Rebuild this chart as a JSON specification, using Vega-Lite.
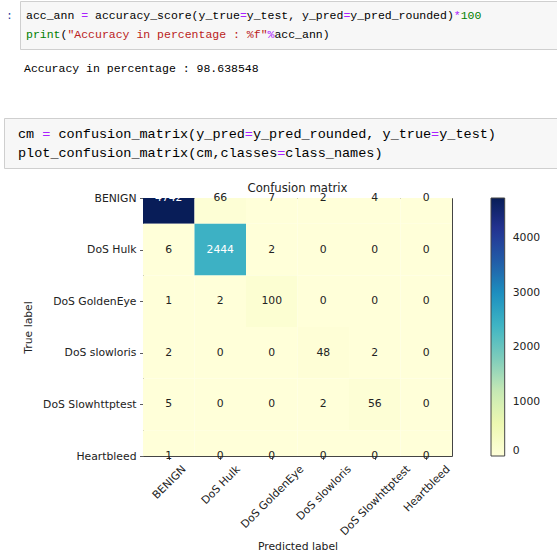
{
  "$schema": "https://vega.github.io/schema/vega-lite/v6.json",
  "padding": 0,
  "background": "white",
  "spacing": 0,
  "config": {
    "view": {"stroke": null},
    "font": "DejaVu Sans"
  },
  "vconcat": [
    {
      "spacing": 0,
      "hconcat": [
        {
          "width": 19,
          "height": 48,
          "data": {"values": [{"line": 1, "text": ":"}]},
          "mark": {"type": "text", "font": "Liberation Mono", "fontSize": 11.5, "color": "#303F9F", "baseline": "middle", "align": "center"},
          "encoding": {
            "y": {"field": "line", "type": "quantitative", "scale": {"domain": [0.211, 2.737], "reverse": true, "nice": false, "zero": false}, "axis": null},
            "text": {"field": "text"}
          }
        },
        {
          "width": 537,
          "height": 48,
          "view": {"fill": "#f7f7f7", "stroke": "#cfcfcf"},
          "data": {"values": [
            {"line": 1, "col": 0, "text": "acc_ann", "tok": "plain"},
            {"line": 1, "col": 8, "text": "=", "tok": "op"},
            {"line": 1, "col": 10, "text": "accuracy_score(y_true", "tok": "plain"},
            {"line": 1, "col": 31, "text": "=", "tok": "op"},
            {"line": 1, "col": 32, "text": "y_test, y_pred", "tok": "plain"},
            {"line": 1, "col": 46, "text": "=", "tok": "op"},
            {"line": 1, "col": 47, "text": "y_pred_rounded)", "tok": "plain"},
            {"line": 1, "col": 62, "text": "*", "tok": "op"},
            {"line": 1, "col": 63, "text": "100", "tok": "num"},
            {"line": 2, "col": 0, "text": "print", "tok": "builtin"},
            {"line": 2, "col": 5, "text": "(", "tok": "plain"},
            {"line": 2, "col": 6, "text": "\"Accuracy in percentage : %f\"", "tok": "string"},
            {"line": 2, "col": 35, "text": "%", "tok": "op"},
            {"line": 2, "col": 36, "text": "acc_ann)", "tok": "plain"}
          ]},
          "mark": {"type": "text", "font": "Liberation Mono", "fontSize": 11.5, "align": "left", "baseline": "middle"},
          "encoding": {
            "x": {"field": "col", "type": "quantitative", "scale": {"domain": [-0.87, 76.96], "nice": false, "zero": false}, "axis": null},
            "y": {"field": "line", "type": "quantitative", "scale": {"domain": [0.211, 2.737], "reverse": true, "nice": false, "zero": false}, "axis": null},
            "text": {"field": "text"},
            "color": {"field": "tok", "type": "nominal", "scale": {"domain": ["plain", "op", "num", "builtin", "string"], "range": ["#000000", "#AA22FF", "#008000", "#008000", "#BA2121"]}, "legend": null}
          }
        }
      ]
    },
    {
      "width": 557,
      "height": 67,
      "data": {"values": [{"line": 1, "col": 0, "text": "Accuracy in percentage : 98.638548"}]},
      "mark": {"type": "text", "font": "Liberation Mono", "fontSize": 11.5, "align": "left", "baseline": "middle", "color": "#000000"},
      "encoding": {
        "x": {"field": "col", "type": "quantitative", "scale": {"domain": [-3.478, 77.24], "nice": false, "zero": false}, "axis": null},
        "y": {"field": "line", "type": "quantitative", "scale": {"domain": [0, 3.526], "reverse": true, "nice": false, "zero": false}, "axis": null},
        "text": {"field": "text"}
      }
    },
    {
      "spacing": 0,
      "hconcat": [
        {"width": 3, "height": 50, "data": {"values": []}, "mark": "point"},
        {
          "width": 553,
          "height": 50,
          "view": {"fill": "#f7f7f7", "stroke": "#cfcfcf"},
          "data": {"values": [
            {"line": 1, "col": 0, "text": "cm", "tok": "plain"},
            {"line": 1, "col": 3, "text": "=", "tok": "op"},
            {"line": 1, "col": 5, "text": "confusion_matrix(y_pred", "tok": "plain"},
            {"line": 1, "col": 28, "text": "=", "tok": "op"},
            {"line": 1, "col": 29, "text": "y_pred_rounded, y_true", "tok": "plain"},
            {"line": 1, "col": 51, "text": "=", "tok": "op"},
            {"line": 1, "col": 52, "text": "y_test)", "tok": "plain"},
            {"line": 2, "col": 0, "text": "plot_confusion_matrix(cm,classes", "tok": "plain"},
            {"line": 2, "col": 32, "text": "=", "tok": "op"},
            {"line": 2, "col": 33, "text": "class_names)", "tok": "plain"}
          ]},
          "mark": {"type": "text", "font": "Liberation Mono", "fontSize": 13.5, "align": "left", "baseline": "middle"},
          "encoding": {
            "x": {"field": "col", "type": "quantitative", "scale": {"domain": [-1.728, 66.54], "nice": false, "zero": false}, "axis": null},
            "y": {"field": "line", "type": "quantitative", "scale": {"domain": [0.158, 2.79], "reverse": true, "nice": false, "zero": false}, "axis": null},
            "text": {"field": "text"},
            "color": {"field": "tok", "type": "nominal", "scale": {"domain": ["plain", "op", "num", "builtin", "string"], "range": ["#000000", "#AA22FF", "#008000", "#008000", "#BA2121"]}, "legend": null}
          }
        }
      ]
    },
    {"width": 10, "height": 13, "data": {"values": []}, "mark": "point"},
    {
      "spacing": 0,
      "hconcat": [
        {"width": 20.5, "height": 10, "data": {"values": []}, "mark": "point"},
        {
          "width": 309,
          "height": 258,
          "view": {"stroke": "#444444", "strokeWidth": 1},
          "title": {"text": "Confusion matrix", "fontSize": 11.7, "font": "DejaVu Sans", "fontWeight": "normal", "color": "#222222", "anchor": "middle", "frame": "group", "offset": -2.5},
          "data": {"values": [
            {"t": "BENIGN", "p": "BENIGN", "n": 4742},
            {"t": "BENIGN", "p": "DoS Hulk", "n": 66},
            {"t": "BENIGN", "p": "DoS GoldenEye", "n": 7},
            {"t": "BENIGN", "p": "DoS slowloris", "n": 2},
            {"t": "BENIGN", "p": "DoS Slowhttptest", "n": 4},
            {"t": "BENIGN", "p": "Heartbleed", "n": 0},
            {"t": "DoS Hulk", "p": "BENIGN", "n": 6},
            {"t": "DoS Hulk", "p": "DoS Hulk", "n": 2444},
            {"t": "DoS Hulk", "p": "DoS GoldenEye", "n": 2},
            {"t": "DoS Hulk", "p": "DoS slowloris", "n": 0},
            {"t": "DoS Hulk", "p": "DoS Slowhttptest", "n": 0},
            {"t": "DoS Hulk", "p": "Heartbleed", "n": 0},
            {"t": "DoS GoldenEye", "p": "BENIGN", "n": 1},
            {"t": "DoS GoldenEye", "p": "DoS Hulk", "n": 2},
            {"t": "DoS GoldenEye", "p": "DoS GoldenEye", "n": 100},
            {"t": "DoS GoldenEye", "p": "DoS slowloris", "n": 0},
            {"t": "DoS GoldenEye", "p": "DoS Slowhttptest", "n": 0},
            {"t": "DoS GoldenEye", "p": "Heartbleed", "n": 0},
            {"t": "DoS slowloris", "p": "BENIGN", "n": 2},
            {"t": "DoS slowloris", "p": "DoS Hulk", "n": 0},
            {"t": "DoS slowloris", "p": "DoS GoldenEye", "n": 0},
            {"t": "DoS slowloris", "p": "DoS slowloris", "n": 48},
            {"t": "DoS slowloris", "p": "DoS Slowhttptest", "n": 2},
            {"t": "DoS slowloris", "p": "Heartbleed", "n": 0},
            {"t": "DoS Slowhttptest", "p": "BENIGN", "n": 5},
            {"t": "DoS Slowhttptest", "p": "DoS Hulk", "n": 0},
            {"t": "DoS Slowhttptest", "p": "DoS GoldenEye", "n": 0},
            {"t": "DoS Slowhttptest", "p": "DoS slowloris", "n": 2},
            {"t": "DoS Slowhttptest", "p": "DoS Slowhttptest", "n": 56},
            {"t": "DoS Slowhttptest", "p": "Heartbleed", "n": 0},
            {"t": "Heartbleed", "p": "BENIGN", "n": 1},
            {"t": "Heartbleed", "p": "DoS Hulk", "n": 0},
            {"t": "Heartbleed", "p": "DoS GoldenEye", "n": 0},
            {"t": "Heartbleed", "p": "DoS slowloris", "n": 0},
            {"t": "Heartbleed", "p": "DoS Slowhttptest", "n": 0},
            {"t": "Heartbleed", "p": "Heartbleed", "n": 0}
          ]},
          "transform": [
            {"calculate": "indexof(['BENIGN','DoS Hulk','DoS GoldenEye','DoS slowloris','DoS Slowhttptest','Heartbleed'], datum.p)", "as": "pi"},
            {"calculate": "indexof(['BENIGN','DoS Hulk','DoS GoldenEye','DoS slowloris','DoS Slowhttptest','Heartbleed'], datum.t)", "as": "ti"},
            {"calculate": "datum.pi - 0.5", "as": "x0"},
            {"calculate": "datum.pi + 0.5", "as": "x1"},
            {"calculate": "datum.ti - 0.5", "as": "y0"},
            {"calculate": "datum.ti + 0.5", "as": "y1"}
          ],
          "layer": [
            {
              "mark": {"type": "rect", "clip": true},
              "encoding": {
                "x": {"field": "x0", "type": "quantitative", "scale": {"domain": [-0.5, 5.5], "nice": false, "zero": false},
                  "axis": {"values": [0, 1, 2, 3, 4, 5], "labelExpr": "['BENIGN','DoS Hulk','DoS GoldenEye','DoS slowloris','DoS Slowhttptest','Heartbleed'][datum.value]", "labelAngle": -45, "labelAlign": "right", "labelBaseline": "top", "labelOffset": {"expr": "[10.9,13.6,25.6,21.6,29.2,17.4][datum.value]"}, "labelPadding": 3.5, "tickSize": 3.5, "tickColor": "#333333", "tickWidth": 0.8, "domain": false, "grid": false, "labelFontSize": 10.8, "labelColor": "#222222", "labelFont": "DejaVu Sans", "title": "Predicted label", "titleFont": "DejaVu Sans", "titleFontSize": 10.8, "titleFontWeight": "normal", "titleColor": "#222222", "titlePadding": 4, "labelOverlap": false, "labelBound": false, "labelFlush": false}},
                "x2": {"field": "x1"},
                "y": {"field": "y0", "type": "quantitative", "scale": {"domain": [0, 5], "reverse": true, "nice": false, "zero": false},
                  "axis": {"values": [0, 1, 2, 3, 4, 5], "labelExpr": "['BENIGN','DoS Hulk','DoS GoldenEye','DoS slowloris','DoS Slowhttptest','Heartbleed'][datum.value]", "labelPadding": 3.5, "tickSize": 3.5, "tickColor": "#333333", "tickWidth": 0.8, "domain": false, "grid": false, "labelFontSize": 10.8, "labelColor": "#222222", "labelFont": "DejaVu Sans", "title": "True label", "titleFont": "DejaVu Sans", "titleFontSize": 10.8, "titleFontWeight": "normal", "titleColor": "#222222", "titlePadding": 9.5, "labelOverlap": false, "labelBound": false, "labelFlush": false}},
                "y2": {"field": "y1"},
                "color": {"field": "n", "type": "quantitative",
                  "scale": {"type": "linear", "domain": [0, 592.75, 1185.5, 1778.25, 2371, 2963.75, 3556.5, 4149.25, 4742], "range": ["#ffffd9", "#edf8b1", "#c7e9b4", "#7fcdbb", "#41b6c4", "#1d91c0", "#225ea8", "#253494", "#081d58"], "interpolate": "rgb"},
                  "legend": {"type": "gradient", "orient": "right", "offset": 38, "padding": 0, "title": null, "direction": "vertical", "gradientLength": 258, "gradientThickness": 13.7, "gradientStrokeColor": "#444444", "gradientStrokeWidth": 1, "values": [0, 1000, 2000, 3000, 4000], "format": "d", "labelFontSize": 10.8, "labelColor": "#222222", "labelFont": "DejaVu Sans", "labelOffset": 8, "labelOverlap": false}}
              }
            },
            {
              "mark": {"type": "text", "fontSize": 10.8, "font": "DejaVu Sans", "baseline": "middle", "align": "center"},
              "encoding": {
                "x": {"field": "pi", "type": "quantitative"},
                "y": {"field": "ti", "type": "quantitative"},
                "text": {"field": "n", "type": "quantitative", "format": "d"},
                "color": {"condition": {"test": "datum.n > 2371", "value": "#ffffff"}, "value": "#222222"}
              }
            }
          ]
        }
      ]
    }
  ]
}
